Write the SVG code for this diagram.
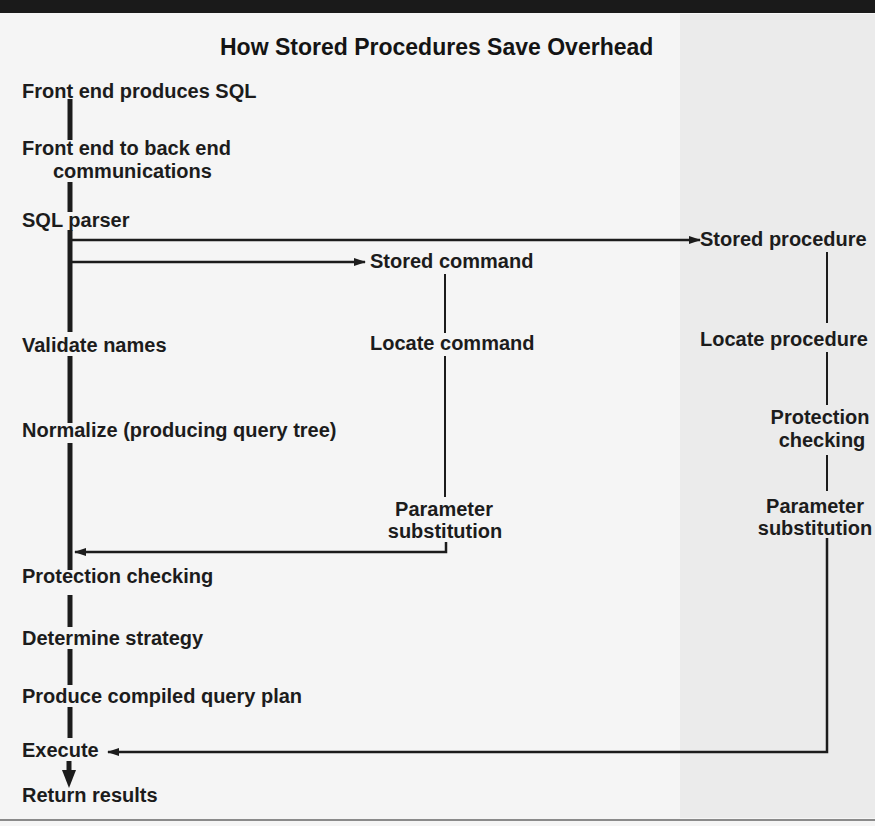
<svg xmlns="http://www.w3.org/2000/svg" width="875" height="826" viewBox="0 0 875 826">
  <defs>
    <style>
      .lbl { font-family: "Liberation Sans", Arial, Helvetica, sans-serif; font-size: 20px; font-weight: bold; fill: #1c1c1c; }
      .title { font-family: "Liberation Sans", Arial, Helvetica, sans-serif; font-size: 23px; font-weight: bold; fill: #141414; }
      .spine { stroke: #1c1c1c; stroke-width: 5; fill: none; }
      .wire { stroke: #1c1c1c; stroke-width: 2.5; fill: none; }
      .wire-thin { stroke: #1c1c1c; stroke-width: 2; fill: none; }
    </style>
    <marker id="arr" viewBox="0 0 12 8" refX="11" refY="4" markerWidth="12" markerHeight="8" markerUnits="userSpaceOnUse" orient="auto">
      <path d="M0,0 L12,4 L0,8 Z" fill="#1c1c1c"/>
    </marker>
  </defs>

  <!-- background -->
  <rect x="0" y="0" width="875" height="826" fill="#f5f5f5"/>
  <rect x="680" y="14" width="195" height="804" fill="#ebebeb"/>
  <rect x="0" y="0" width="875" height="13" fill="#1a1a1a"/>
  <rect x="0" y="819" width="875" height="2" fill="#8a8a8a"/>

  <g id="title">
    <text class="title" x="220" y="55">How Stored Procedures Save Overhead</text>
  </g>

  <!-- connectors -->
  <g id="connectors">
    <!-- main left spine segments -->
    <line class="spine" x1="70" y1="99" x2="70" y2="140"/>
    <line class="spine" x1="70" y1="182" x2="70" y2="212"/>
    <line class="spine" x1="70" y1="230" x2="70" y2="332"/>
    <line class="spine" x1="70" y1="356" x2="70" y2="423"/>
    <line class="spine" x1="70" y1="443" x2="70" y2="570"/>
    <line class="spine" x1="70" y1="595" x2="70" y2="627"/>
    <line class="spine" x1="70" y1="649" x2="70" y2="685"/>
    <line class="spine" x1="70" y1="707" x2="70" y2="738"/>
    <line class="spine" x1="69" y1="761" x2="69" y2="772"/>
    <path d="M62,770 L76,770 L69,788 Z" fill="#1c1c1c"/>

    <!-- branch to stored procedure -->
    <line class="wire" x1="72" y1="240" x2="700" y2="240" marker-end="url(#arr)"/>
    <!-- branch to stored command -->
    <line class="wire" x1="72" y1="262" x2="365" y2="262" marker-end="url(#arr)"/>

    <!-- stored command column -->
    <line class="wire-thin" x1="445" y1="274" x2="445" y2="333"/>
    <line class="wire-thin" x1="445" y1="356" x2="445" y2="497"/>
    <polyline class="wire" points="446,542 446,552 75,552" marker-end="url(#arr)"/>

    <!-- stored procedure column -->
    <line class="wire-thin" x1="827" y1="252" x2="827" y2="323"/>
    <line class="wire-thin" x1="827" y1="352" x2="827" y2="405"/>
    <line class="wire-thin" x1="827" y1="455" x2="827" y2="491"/>
    <polyline class="wire" points="827,538 827,752 108,752" marker-end="url(#arr)"/>
  </g>

  <!-- left column nodes -->
  <g id="front-end-produces-sql"><text class="lbl" x="22" y="98">Front end produces SQL</text></g>
  <g id="front-to-back-comm">
    <text class="lbl" x="22" y="155">Front end to back end</text>
    <text class="lbl" x="53" y="178">communications</text>
  </g>
  <g id="sql-parser"><text class="lbl" x="22" y="227">SQL parser</text></g>
  <g id="validate-names"><text class="lbl" x="22" y="352">Validate names</text></g>
  <g id="normalize"><text class="lbl" x="22" y="437">Normalize (producing query tree)</text></g>
  <g id="protection-checking"><text class="lbl" x="22" y="583">Protection checking</text></g>
  <g id="determine-strategy"><text class="lbl" x="22" y="645">Determine strategy</text></g>
  <g id="produce-plan"><text class="lbl" x="22" y="703">Produce compiled query plan</text></g>
  <g id="execute"><text class="lbl" x="22" y="757">Execute</text></g>
  <g id="return-results"><text class="lbl" x="22" y="802">Return results</text></g>

  <!-- stored command column -->
  <g id="stored-command"><text class="lbl" x="370" y="268">Stored command</text></g>
  <g id="locate-command"><text class="lbl" x="370" y="350">Locate command</text></g>
  <g id="param-sub-cmd">
    <text class="lbl" x="444" y="516" text-anchor="middle">Parameter</text>
    <text class="lbl" x="445" y="538" text-anchor="middle">substitution</text>
  </g>

  <!-- stored procedure column -->
  <g id="stored-procedure"><text class="lbl" x="700" y="246">Stored procedure</text></g>
  <g id="locate-procedure"><text class="lbl" x="700" y="346">Locate procedure</text></g>
  <g id="protection-checking-proc">
    <text class="lbl" x="820" y="424" text-anchor="middle">Protection</text>
    <text class="lbl" x="822" y="447" text-anchor="middle">checking</text>
  </g>
  <g id="param-sub-proc">
    <text class="lbl" x="815" y="513" text-anchor="middle">Parameter</text>
    <text class="lbl" x="815" y="535" text-anchor="middle">substitution</text>
  </g>
</svg>
